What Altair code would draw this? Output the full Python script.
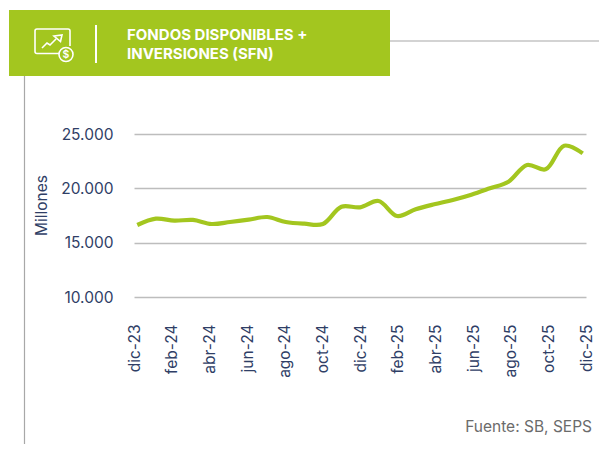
import altair as alt
import pandas as pd

months = ["dic-23","ene-24","feb-24","mar-24","abr-24","may-24","jun-24","jul-24","ago-24","sep-24","oct-24","nov-24",
          "dic-24","ene-25","feb-25","mar-25","abr-25","may-25","jun-25","jul-25","ago-25","sep-25","oct-25","nov-25","dic-25"]
values = [16626,17210,17025,17090,16720,16900,17115,17360,16900,16745,16720,18310,
          18250,18830,17450,18070,18530,18930,19415,20000,20610,22150,21750,23925,23220]
tick_labels = months[::2]
y_ticks = [10000,15000,20000,25000]
title_lines = ["FONDOS DISPONIBLES +","INVERSIONES (SFN)"]
source = "Fuente: SB, SEPS"

FONT = "Inter"
NAVY = "#2f3e66"
GREEN = "#a3c61f"
GRID = "#bdbdbd"

df = pd.DataFrame({"mes": months, "valor": values})

x_line = alt.X("mes:O", sort=None, title=None,
               scale=alt.Scale(type="point", padding=0.5), axis=None)
x_labels = alt.X("mes:O", sort=None, title=None,
                 scale=alt.Scale(type="point", padding=0, range=[6, 458]),
                 axis=alt.Axis(values=tick_labels, labelAngle=270, labelPadding=27, ticks=False, domain=False, grid=False,
                               labelFont=FONT, labelFontSize=15.5, labelColor=NAVY, labelAlign="right", labelBaseline="middle"))
y = alt.Y("valor:Q", title="Millones",
          scale=alt.Scale(domain=[10000,25000], nice=False),
          axis=alt.Axis(values=y_ticks, labelExpr="replace(format(datum.value, ','), ',', '.')",
                        ticks=False, domain=False, grid=True, gridColor=GRID, gridWidth=1.3,
                        labelPadding=15, labelFont=FONT, labelFontSize=15.5, labelColor=NAVY,
                        titleFont=FONT, titleFontSize=15.5, titleFontWeight="normal", titleColor=NAVY,
                        titlePadding=11, titleY=71))

axis_layer = alt.Chart(df).mark_line(opacity=0).encode(x=x_labels, y=y)
line = alt.Chart(df).mark_line(color=GREEN, strokeWidth=4.2, interpolate="catmull-rom", strokeCap="butt").encode(x=x_line, y=y)

X0, Y0 = 128, 134  # plot origin on the page

def vx(px): return alt.value(px - X0)
def vy(py): return alt.value(py - Y0)

one = pd.DataFrame({"a": [0]})
banner = alt.Chart(one).mark_rect(color=GREEN).encode(x=vx(9), x2=vx(390), y=vy(10), y2=vy(76))
top_rule = alt.Chart(one).mark_rule(color="#a8a8a8", strokeWidth=1.2).encode(x=vx(390), x2=vx(607), y=vy(41))
left_rule = alt.Chart(one).mark_rule(color="#a8a8a8", strokeWidth=1.2).encode(x=vx(24.5), y=vy(76), y2=vy(452))
divider = alt.Chart(one).mark_rule(color="white", strokeWidth=2).encode(x=vx(96), y=vy(25), y2=vy(63))

icon_path = ("M9,8.5 L-13,8.5 Q-15,8.5 -15,6.5 L-15,-14 Q-15,-16 -13,-16 L18,-16 Q20,-16 20,-14 L20,1 "
             "M-8,3 L-3,-2 L0,0 L6,-6 M4,-9 L12,-10 L10.5,-3.5 Z "
             "M23,9.5 A7,7 0 1 1 9,9.5 A7,7 0 1 1 23,9.5 Z")
icon = alt.Chart(one).mark_point(shape=icon_path, size=4, filled=False, color="white", strokeWidth=1.6, opacity=1).encode(x=vx(50), y=vy(45))
dollar = alt.Chart(pd.DataFrame({"t": ["$"]})).mark_text(color="white", font=FONT, fontSize=10.5, fontWeight=600, align="center", baseline="middle").encode(
    x=vx(66), y=vy(55), text="t:N")

title1 = alt.Chart(pd.DataFrame({"t": [title_lines[0]]})).mark_text(color="white", font=FONT, fontSize=15, fontWeight="bold", align="left", baseline="middle").encode(
    x=vx(127), y=vy(34.5), text="t:N")
title2 = alt.Chart(pd.DataFrame({"t": [title_lines[1]]})).mark_text(color="white", font=FONT, fontSize=15, fontWeight="bold", align="left", baseline="middle").encode(
    x=vx(127), y=vy(54), text="t:N")
src = alt.Chart(pd.DataFrame({"t": [source]})).mark_text(color="#6b6b6b", font=FONT, fontSize=15.5, align="right", baseline="middle").encode(
    x=vx(592), y=vy(426.5), text="t:N")

chart = alt.layer(axis_layer, line, top_rule, left_rule, banner, divider, icon, dollar, title1, title2, src).resolve_scale(
    x="independent"
).properties(
    width=464, height=163, background="white",
    padding={"left": 120, "top": 126, "right": 7, "bottom": 147},
    autosize=alt.AutoSizeParams(type="none"),
).configure_view(stroke=None)

chart.save("out.html", embed_options={"renderer": "svg", "actions": False})
